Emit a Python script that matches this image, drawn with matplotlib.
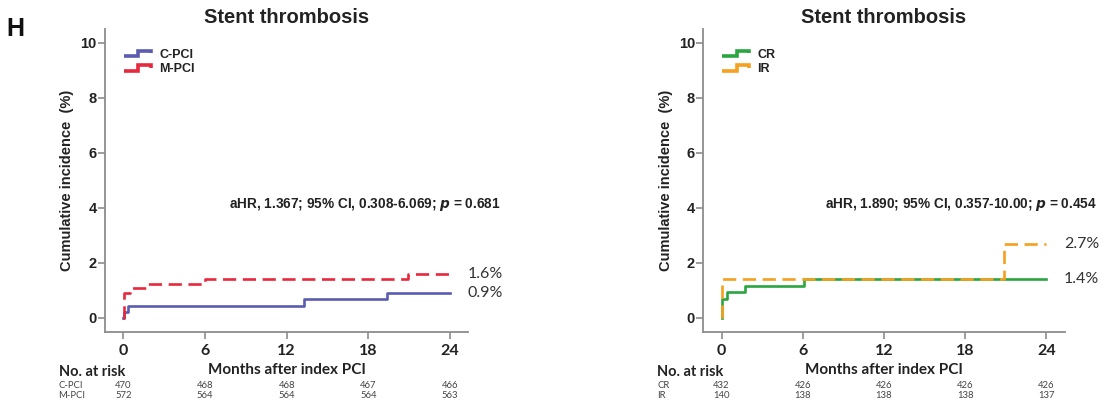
import matplotlib
matplotlib.use("Agg")
import matplotlib.pyplot as plt
import numpy as np
from matplotlib.legend_handler import HandlerBase
from matplotlib.lines import Line2D
from matplotlib.transforms import blended_transform_factory

# Kaplan-Meier style step data (months, cumulative incidence %)
cpci_t = [0, 0.05, 0.3, 13.3, 19.4, 24]
cpci_y = [0, 0.21, 0.45, 0.68, 0.9, 0.9]
mpci_t = [0, 0.05, 0.5, 1.7, 6.0, 20.9, 24]
mpci_y = [0, 0.9, 1.07, 1.25, 1.43, 1.6, 1.6]

cr_t = [0, 0.05, 0.4, 1.7, 6.1, 24]
cr_y = [0, 0.7, 0.93, 1.16, 1.4, 1.4]
ir_t = [0, 0.05, 20.85, 24]
ir_y = [0, 1.43, 2.7, 2.7]

risk_times = [0, 6, 12, 18, 24]
risk_cpci = [470, 468, 468, 467, 466]
risk_mpci = [572, 564, 564, 564, 563]
risk_cr = [432, 426, 426, 426, 426]
risk_ir = [140, 138, 138, 138, 137]

hr_left = "aHR, 1.367; 95% CI, 0.308-6.069; $\\mathbfit{p}$ = 0.681"
hr_right = "aHR, 1.890; 95% CI, 0.357-10.00; $\\mathbfit{p}$ = 0.454"

ARIAL = "Liberation Sans"
CALIBRI = "Lato"
AXIS_GRAY = "#8c8c8c"


class StepHandler(HandlerBase):
    """Draws a small step curve as the legend key."""

    def create_artists(self, legend, orig_handle, xdescent, ydescent,
                       width, height, fontsize, trans):
        xs = np.array([0, 0.5, 0.5, 0.95, 0.95]) * width - xdescent
        ys = np.array([0.2, 0.2, 0.8, 0.8, 0.55]) * height - ydescent
        line = Line2D(xs, ys, color=orig_handle.get_color(), lw=2.6,
                      solid_joinstyle="miter", solid_capstyle="butt")
        line.set_transform(trans)
        return [line]


def draw_panel(ax, curves, risk_rows, hr_text):
    for t, y, color, ls, label in curves:
        ax.step(t, y, where="post", color=color, lw=1.9, linestyle=ls,
                label=label)
        ax.text(25.3, y[-1], f"{y[-1]:.1f}%", fontsize=11.5,
                family=CALIBRI, color="#333333", va="center", ha="left",
                clip_on=False)

    ax.set_xlim(-1.35, 25.35)
    ax.set_ylim(-0.5, 10.5)
    ax.set_xticks(risk_times)
    ax.set_yticks([0, 2, 4, 6, 8, 10])

    for side in ("top", "right"):
        ax.spines[side].set_visible(False)
    for side in ("left", "bottom"):
        ax.spines[side].set_color(AXIS_GRAY)
        ax.spines[side].set_linewidth(1.3)
    ax.tick_params(axis="both", direction="out", length=5, width=1.2,
                   color=AXIS_GRAY)
    ax.tick_params(axis="y", pad=1)
    ax.tick_params(axis="x", pad=4)
    for lbl in ax.get_xticklabels():
        lbl.set_family(CALIBRI)
        lbl.set_fontweight("bold")
        lbl.set_fontsize(11.5)
        lbl.set_color("#222222")
    for lbl in ax.get_yticklabels():
        lbl.set_family(ARIAL)
        lbl.set_fontweight("bold")
        lbl.set_fontsize(10.5)
        lbl.set_color("#222222")

    ax.set_title("Stent thrombosis", fontsize=14.5, fontweight="bold",
                 family=ARIAL, pad=4, color="#222222")
    ax.set_ylabel("Cumulative incidence  (%)", fontsize=10.5,
                  fontweight="bold", family=ARIAL, color="#222222",
                  va="center")
    ax.yaxis.set_label_coords(-0.104, 0.5)
    ax.set_xlabel("Months after index PCI", fontsize=11, fontweight="bold",
                  family=CALIBRI, color="#222222", va="center")
    ax.xaxis.set_label_coords(0.5, -0.127)

    ax.text(1.089, 0.419, hr_text, transform=ax.transAxes, ha="right",
            va="center", fontsize=9.8, fontweight="bold", family=ARIAL,
            color="#222222")

    leg = ax.legend(handler_map={Line2D: StepHandler()}, loc="upper left",
                    bbox_to_anchor=(0.035, 0.955), frameon=False,
                    borderpad=0, handlelength=2.3, handletextpad=0.5,
                    labelspacing=0.2,
                    prop={"family": ARIAL, "weight": "bold", "size": 9})
    for txt in leg.get_texts():
        txt.set_color("#222222")

    # number-at-risk table under the x axis
    trans = blended_transform_factory(ax.transData, ax.transAxes)
    ax.text(-0.128, -0.132, "No. at risk", transform=ax.transAxes,
            ha="left", va="center", fontsize=10.5, fontweight="bold",
            family=CALIBRI, color="#222222")
    for (name, counts), yy in zip(risk_rows, [-0.179, -0.210]):
        ax.text(-0.128, yy, name, transform=ax.transAxes, ha="left",
                va="center", fontsize=6.8, family=CALIBRI, color="#444444")
        for t, n in zip(risk_times, counts):
            ax.text(t, yy, str(n), transform=trans, ha="center",
                    va="center", fontsize=6.8, family=CALIBRI,
                    color="#444444")


fig = plt.figure(figsize=(11.07, 4.04), dpi=100)
ax1 = fig.add_axes([0.0949, 0.179, 0.3282, 0.7493])
ax2 = fig.add_axes([0.6353, 0.179, 0.3265, 0.7493])

draw_panel(
    ax1,
    [(cpci_t, cpci_y, "#5b5bb0", "-", "C-PCI"),
     (mpci_t, mpci_y, "#e8283c", (0, (5, 2.5)), "M-PCI")],
    [("C-PCI", risk_cpci), ("M-PCI", risk_mpci)],
    hr_left,
)
draw_panel(
    ax2,
    [(cr_t, cr_y, "#2aa640", "-", "CR"),
     (ir_t, ir_y, "#f5a01e", (0, (5, 2.5)), "IR")],
    [("CR", risk_cr), ("IR", risk_ir)],
    hr_right,
)

fig.text(0.006, 1 - 29 / 404, "H", fontsize=18, fontweight="bold",
         family=ARIAL, va="center", ha="left", color="#111111")

fig.savefig("out.png", dpi=100)
